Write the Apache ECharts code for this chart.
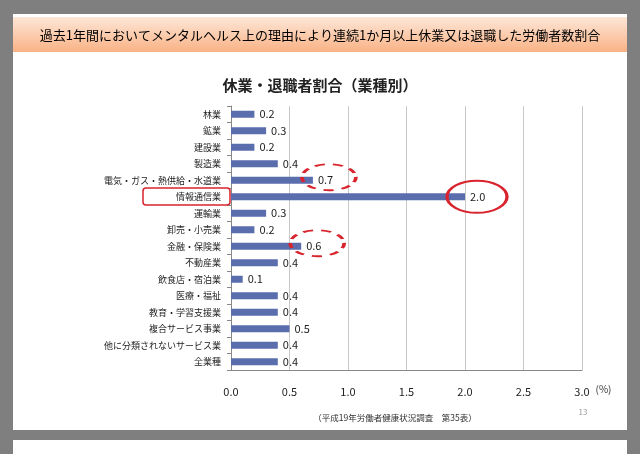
<!DOCTYPE html>
<html>
<head>
<meta charset="utf-8">
<script src="https://cdn.jsdelivr.net/npm/echarts@6/dist/echarts.min.js"></script>
<style>
  html, body { margin: 0; padding: 0; background: #7f7f7f; }
  #main { width: 640px; height: 454px; }
</style>
</head>
<body>
<div id="main"></div>
<script>
// 業種と割合(%)
var industries = ['林業', '鉱業', '建設業', '製造業', '電気・ガス・熱供給・水道業', '情報通信業',
  '運輸業', '卸売・小売業', '金融・保険業', '不動産業', '飲食店・宿泊業', '医療・福祉',
  '教育・学習支援業', '複合サービス事業', '他に分類されないサービス業', '全業種'];
var ratios = [0.2, 0.3, 0.2, 0.4, 0.7, 2.0, 0.3, 0.2, 0.6, 0.4, 0.1, 0.4, 0.4, 0.5, 0.4, 0.4];
var xTicks = [0, 0.5, 1.0, 1.5, 2.0, 2.5, 3.0];
// 赤丸で囲む項目
var circled = ['電気・ガス・熱供給・水道業', '情報通信業', '金融・保険業'];

var font = '"Noto Sans CJK JP", sans-serif';
var chart = echarts.init(document.getElementById('main'));

chart.setOption({
  backgroundColor: '#7f7f7f',
  animation: false,
  graphic: [
    { type: 'rect', shape: { x: 13, y: 14, width: 614, height: 416 }, style: { fill: '#fff' }, z: -10 },
    { type: 'rect', shape: { x: 13, y: 440, width: 614, height: 20 }, style: { fill: '#fff' }, z: -10 },
    { type: 'rect', shape: { x: 13, y: 17, width: 614, height: 35 }, z: -9,
      style: { fill: new echarts.graphic.LinearGradient(0, 0, 0, 1, [
        { offset: 0, color: '#fde7d8' }, { offset: 1, color: '#f9b285' }]) } },
    { type: 'text', x: 320, y: 35, z: 5,
      style: { text: '過去1年間においてメンタルヘルス上の理由により連続1か月以上休業又は退職した労働者数割合',
        fill: '#000', font: '13px ' + font, align: 'center', verticalAlign: 'middle' } },
    { type: 'text', x: 395, y: 418, z: 5,
      style: { text: '（平成19年労働者健康状況調査　第35表）', fill: '#333', font: '8.5px ' + font,
        align: 'center', verticalAlign: 'middle' } },
    { type: 'text', x: 583, y: 412, z: 5,
      style: { text: '13', fill: '#999', font: '8px ' + font, align: 'center', verticalAlign: 'middle' } },
    { type: 'rect', shape: { x: 143, y: 188, width: 87, height: 17, r: 3 }, z: 5,
      style: { fill: 'none', stroke: '#d9232d', lineWidth: 1.5 } }
  ],
  title: {
    text: '休業・退職者割合（業種別）', left: 'center', top: 73,
    textStyle: { fontFamily: font, fontSize: 15, fontWeight: 'bold', color: '#222' }
  },
  grid: { left: 231, right: 58, top: 106, bottom: 84, containLabel: false },
  xAxis: {
    type: 'value', min: 0, max: 3, interval: 0.5,
    name: '(%)', nameLocation: 'end', nameGap: 12,
    nameTextStyle: { fontFamily: font, fontSize: 10, color: '#333', verticalAlign: 'top', padding: [14, 0, 0, 0] },
    axisLine: { show: true, lineStyle: { color: '#888' } },
    axisTick: { show: false },
    axisLabel: { fontFamily: font, fontSize: 11, color: '#222', margin: 16,
      formatter: function (v) { return v.toFixed(1); } },
    splitLine: { show: true, lineStyle: { color: '#c8c8c8' } }
  },
  yAxis: {
    type: 'category', data: industries, inverse: true,
    axisLine: { show: true, lineStyle: { color: '#888' } },
    axisTick: { show: true, inside: false, length: 4, lineStyle: { color: '#888' } },
    axisLabel: { fontFamily: font, fontSize: 9, color: '#222', margin: 10 }
  },
  series: [{
    type: 'bar', data: ratios, barWidth: 7,
    itemStyle: { color: '#5a6eae' },
    label: { show: true, position: 'right', distance: 5, fontFamily: font, fontSize: 11, color: '#222',
      formatter: function (p) { return p.value.toFixed(1); } }
  }]
});

// 注目項目の赤い破線/実線の楕円
var rings = [];
circled.forEach(function (name) {
  var i = industries.indexOf(name);
  var p = chart.convertToPixel({ gridIndex: 0 }, [ratios[i], name]);
  var big = ratios[i] >= 2;
  var rx = big ? 30 : 27, ry = big ? 16 : 13;
  rings.push({
    type: 'circle', x: p[0] + (big ? 12 : 16), y: p[1] + (big ? 0 : -3), scaleX: rx / ry, z: 6,
    shape: { cx: 0, cy: 0, r: ry },
    style: { fill: 'none', stroke: '#d9232d', lineWidth: 1.8, strokeNoScale: true,
      lineDash: big ? null : [5, 4] }
  });
});
chart.setOption({ graphic: rings.map(function (r, k) { r.id = 'ring' + k; return r; }) });
</script>
</body>
</html>
